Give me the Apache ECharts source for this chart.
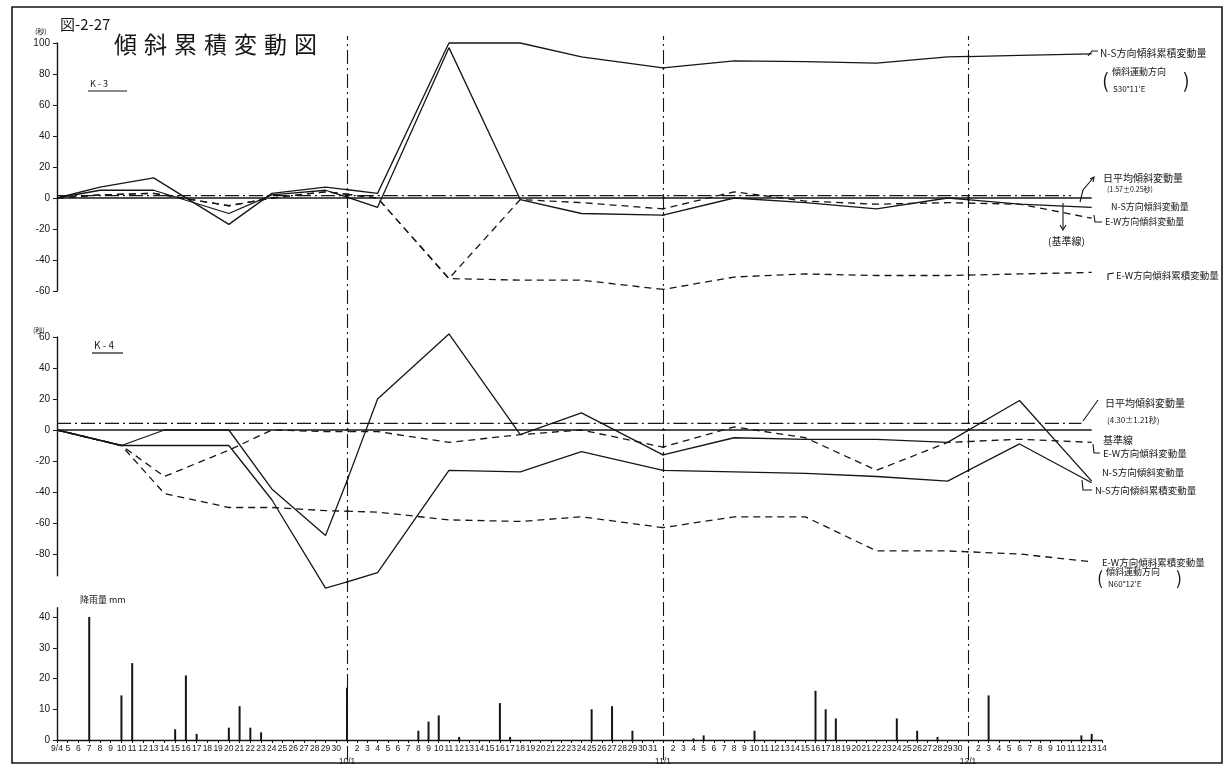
<!DOCTYPE html>
<html>
<head>
<meta charset="utf-8">
<script src="https://cdn.jsdelivr.net/npm/echarts@6/dist/echarts.min.js"></script>
<style>
  html, body { margin: 0; padding: 0; background: #fff; }
  #chart { width: 1225px; height: 774px; }
</style>
</head>
<body>
<div id="chart"></div>
<script>
// ---------------- data ----------------
// K-3 station, weekly readings (seconds of arc)
const K3_DATES  = ['9/4','9/8','9/13','9/20','9/24','9/29','10/4','10/11','10/18','10/24','11/1','11/8','11/15','11/22','11/29','12/6','12/13'];
const K3_NS_CUM = [0, 7, 13, -17, 3, 7, 3, 100, 100, 91, 84, 88.5, 88, 87, 91, 92, 93];
const K3_NS_DAY = [0, 5, 5, -10, 2, 5, -6, 97, -1, -10, -11, 0, -3, -7, 0, -4, -6];
const K3_EW_CUM = [0, 2, 3, -5, 0, 4, 0, -52, -53, -53, -59, -51, -49, -50, -50, -49, -48];
const K3_EW_DAY = [0, 2, 3, -5, 0, 4, 0, -52, -1, -3, -7, 4, -2, -4, -3, -4, -13];
const K3_MEAN   = 1.57;

// K-4 station
const K4_DATES  = ['9/4','9/10','9/14','9/20','9/24','9/29','10/4','10/11','10/18','10/24','11/1','11/8','11/15','11/22','11/29','12/6','12/13'];
const K4_NS_DAY = [0, -10, 0, 0, -38, -68, 20, 62, -3, 11, -16, -5, -6, -6, -8, 19, -33];
const K4_NS_CUM = [0, -10, -10, -10, -45, -102, -92, -26, -27, -14, -26, -27, -28, -30, -33, -9, -34];
const K4_EW_DAY = [0, -10, -30, -13, 0, -1, -1, -8, -3, 0, -11, 2, -5, -26, -8, -6, -8];
const K4_EW_CUM = [0, -10, -41, -50, -50, -52, -53, -58, -59, -56, -63, -56, -56, -78, -78, -80, -85];
const K4_MEAN   = 4.30;

// daily rainfall (mm)
const RAIN_DATES = ['9/7','9/10','9/11','9/15','9/16','9/17','9/20','9/21','9/22','9/23','10/1','10/8','10/9','10/10','10/12','10/16','10/17','10/25','10/27','10/29','11/4','11/5','11/10','11/16','11/17','11/18','11/24','11/26','11/28','12/3','12/12','12/13'];
const RAIN_MM    = [40, 14.5, 25, 3.5, 21, 2, 4, 11, 4, 2.5, 17, 3, 6, 8, 1, 12, 1, 10, 11, 3, 0.5, 1.5, 3, 16, 10, 7, 7, 3, 1, 14.5, 1.5, 2];

// ---------------- calendar ----------------
const YEAR = 2001;                       // any non-leap year; only Sep–Dec are used
const ORIGIN = Date.UTC(YEAR, 8, 4);     // 9/4
function dayIndex(md) {
  const [m, d] = md.split('/').map(Number);
  return (Date.UTC(YEAR, m - 1, d) - ORIGIN) / 864e5;
}
function dayLabel(i) {
  const t = new Date(ORIGIN + i * 864e5);
  const m = t.getUTCMonth() + 1, d = t.getUTCDate();
  if (i === 0) return m + '/' + d;
  return d === 1 ? '{mo|' + m + '/' + d + '}' : String(d);
}

// ---------------- layout ----------------
// each month is drawn in its own horizontal band of the sheet
const SEGMENTS = [
  { from: '9/4',  to: '10/1',  x0: 57,  x1: 347 },
  { from: '10/1', to: '11/1',  x0: 347, x1: 663 },
  { from: '11/1', to: '12/1',  x0: 663, x1: 968 },
  { from: '12/1', to: '12/14', x0: 968, x1: 1102 }
];
const PANELS = [
  { zeroY: 198, scale: 1.55,  span: [-80, 125], axis: { min: -60, max: 100, ticks: [-60,-40,-20,0,20,40,60,80,100] } },
  { zeroY: 430, scale: 1.55,  span: [-125, 80], axis: { min: -94, max: 60,  ticks: [-80,-60,-40,-20,0,20,40,60] } },
  { zeroY: 740, scale: 3.075, span: [0, 45],    axis: { min: 0,   max: 43,  ticks: [0,10,20,30,40] } }
];

const INK = '#161616';
const JP = '"Noto Sans CJK JP", "Noto Sans", sans-serif';
const NUM = '"Liberation Sans Narrow", "Liberation Sans", "DejaVu Sans", sans-serif';
const SOLID = { color: INK, width: 1.3, type: 'solid' };
const DASH  = { color: INK, width: 1.3, type: [7, 5] };
const CHAIN = { color: INK, width: 1.2, type: [14, 4, 2, 4] };

// series description per panel
function pts(dates, vals) { return dates.map((d, i) => [dayIndex(d), vals[i]]); }
const LINES = [
  [
    { data: [[0, 0], [dayIndex('12/13'), 0]], style: SOLID },
    { data: [[0, K3_MEAN], [dayIndex('12/11'), K3_MEAN]], style: CHAIN },
    { data: pts(K3_DATES, K3_NS_CUM), style: SOLID },
    { data: pts(K3_DATES, K3_NS_DAY), style: SOLID },
    { data: pts(K3_DATES, K3_EW_CUM), style: DASH },
    { data: pts(K3_DATES, K3_EW_DAY), style: DASH }
  ],
  [
    { data: [[0, 0], [dayIndex('12/13'), 0]], style: SOLID },
    { data: [[0, K4_MEAN], [dayIndex('12/12'), K4_MEAN]], style: CHAIN },
    { data: pts(K4_DATES, K4_NS_DAY), style: SOLID },
    { data: pts(K4_DATES, K4_NS_CUM), style: SOLID },
    { data: pts(K4_DATES, K4_EW_DAY), style: DASH },
    { data: pts(K4_DATES, K4_EW_CUM), style: DASH }
  ],
  []
];

const grid = [], xAxis = [], yAxis = [], series = [];

PANELS.forEach((p, pi) => {
  const top = p.zeroY - p.span[1] * p.scale;
  const height = (p.span[1] - p.span[0]) * p.scale;
  SEGMENTS.forEach((s, si) => {
    const g = grid.length;
    const lo = dayIndex(s.from), hi = dayIndex(s.to);
    const isLast = si === SEGMENTS.length - 1;
    grid.push({ left: s.x0, top: top, width: s.x1 - s.x0, height: height });
    const showX = pi === PANELS.length - 1;
    xAxis.push({
      gridIndex: g, type: 'value', min: lo, max: hi, interval: 1,
      show: showX,
      axisLine: { show: showX, lineStyle: { color: INK, width: 1.3 } },
      axisTick: { show: showX, length: 3, lineStyle: { color: INK } },
      splitLine: { show: false },
      axisLabel: {
        show: showX, color: INK, fontFamily: NUM, fontSize: 8.5, margin: 4,
        showMinLabel: true, showMaxLabel: isLast,
        formatter: v => dayLabel(v),
        rich: { mo: { fontFamily: NUM, fontSize: 8.5, color: INK, padding: [13, 0, 0, 0] } }
      }
    });
    yAxis.push({ gridIndex: g, type: 'value', min: p.span[0], max: p.span[1], show: false });

    LINES[pi].forEach(L => {
      series.push({
        type: 'line', xAxisIndex: g, yAxisIndex: g, data: L.data,
        symbol: 'none', lineStyle: L.style, clip: true, silent: true, animation: false
      });
    });
    if (pi === 2) {
      const bars = RAIN_DATES.map((d, i) => [dayIndex(d), RAIN_MM[i]])
        .filter(b => b[0] >= lo && (b[0] < hi || (isLast && b[0] === hi)));
      series.push({
        type: 'bar', xAxisIndex: g, yAxisIndex: g, data: bars, barWidth: 2,
        itemStyle: { color: INK }, silent: true, animation: false
      });
    }
  });

  // visible value axis for the panel
  const ga = grid.length;
  grid.push({ left: SEGMENTS[0].x0, top: p.zeroY - p.axis.max * p.scale, width: 10,
              height: (p.axis.max - p.axis.min) * p.scale });
  xAxis.push({ gridIndex: ga, type: 'value', min: 0, max: 1, show: false });
  yAxis.push({
    gridIndex: ga, type: 'value', min: p.axis.min, max: p.axis.max,
    axisLine: { show: true, lineStyle: { color: INK, width: 1.4 } },
    axisTick: { show: true, length: 4, customValues: p.axis.ticks, lineStyle: { color: INK } },
    splitLine: { show: false },
    axisLabel: { color: INK, fontFamily: NUM, fontSize: 10, margin: 7, customValues: p.axis.ticks,
                 formatter: v => String(v) }
  });
});

// month dividers running through all three panels
SEGMENTS.slice(1).forEach(s => {
  const g = grid.length;
  grid.push({ left: s.x0, top: 36, width: s.x1 - s.x0, height: 724 });
  xAxis.push({ gridIndex: g, type: 'value', min: dayIndex(s.from), max: dayIndex(s.to), show: false });
  yAxis.push({ gridIndex: g, type: 'value', min: 0, max: 1, show: false });
  series.push({
    type: 'line', xAxisIndex: g, yAxisIndex: g, data: [], silent: true, animation: false,
    markLine: { symbol: 'none', silent: true, animation: false, label: { show: false },
                lineStyle: Object.assign({}, CHAIN, { width: 1.1 }),
                data: [{ xAxis: dayIndex(s.from) }] }
  });
});

// ---------------- annotations ----------------
function txt(t, x, y, size, extra) {
  return { type: 'text', x: x, y: y, silent: true,
    style: Object.assign({ text: t, fill: INK, font: size + 'px ' + JP, textVerticalAlign: 'middle' }, extra || {}) };
}
function stroke(points, w) {
  return { type: 'polyline', silent: true, shape: { points: points },
           style: { stroke: INK, lineWidth: w || 1.1, fill: null } };
}
const TITLE = '傾斜累積変動図';
const NOTES = [
  txt('図-2-27', 60, 24, 15),
  txt('(秒)', 35, 31, 7),
  txt('K - 3', 90, 84, 9),
  txt('K - 4', 94, 345, 10),
  txt('(秒)', 33, 330, 7),
  txt('降雨量 mm', 80, 600, 9),

  txt('N-S方向傾斜累積変動量', 1100, 53, 10),
  txt('(', 1102, 80, 20),
  txt('傾斜運動方向', 1112, 72, 9),
  txt('S30°11′E', 1113, 89, 8),
  txt(')', 1183, 80, 20),
  txt('日平均傾斜変動量', 1103, 178, 10),
  txt('(1.57±0.25秒)', 1107, 189, 7),
  txt('N-S方向傾斜変動量', 1111, 207, 9),
  txt('E-W方向傾斜変動量', 1105, 222, 9),
  txt('(基準線)', 1048, 241, 10),
  txt('E-W方向傾斜累積変動量', 1116, 275, 9.5),

  txt('日平均傾斜変動量', 1105, 403, 10),
  txt('(4.30±1.21秒)', 1107, 420, 8),
  txt('基準線', 1103, 440, 10),
  txt('E-W方向傾斜変動量', 1103, 453, 9.5),
  txt('N-S方向傾斜変動量', 1102, 472, 9.5),
  txt('N-S方向傾斜累積変動量', 1095, 490, 9.5),
  txt('E-W方向傾斜累積変動量', 1102, 562, 9.5),
  txt('(', 1097, 578, 18),
  txt('傾斜運動方向', 1106, 572, 9),
  txt('N60°12′E', 1108, 584, 8),
  txt(')', 1176, 578, 18),

  stroke([[88, 91], [127, 91]], 1.2),
  stroke([[92, 353], [123, 353]], 1.2),
  stroke([[1088, 56], [1092, 51], [1098, 51]]),
  stroke([[1080, 202], [1083, 190], [1094, 177]]),
  stroke([[1090, 179], [1094, 177], [1093, 182]]),
  stroke([[1063, 203], [1063, 229]]),
  stroke([[1060, 225], [1063, 230], [1066, 225]]),
  stroke([[1094, 215], [1095, 222], [1102, 222]]),
  stroke([[1108, 280], [1108, 274], [1114, 273]]),
  stroke([[1083, 421], [1098, 400]]),
  stroke([[1093, 444], [1094, 453], [1100, 453]]),
  stroke([[1082, 480], [1083, 490], [1092, 490]]),
  { type: 'rect', silent: true, shape: { x: 12, y: 7, width: 1210, height: 756 },
    style: { stroke: INK, lineWidth: 1.6, fill: null } }
];
// big title, one widely spaced character at a time
Array.from(TITLE).forEach((ch, i) => NOTES.push(txt(ch, 114 + i * 30, 44, 23)));

const chart = echarts.init(document.getElementById('chart'), null, { renderer: 'canvas' });
chart.setOption({
  backgroundColor: '#ffffff',
  animation: false,
  grid: grid, xAxis: xAxis, yAxis: yAxis, series: series,
  graphic: NOTES
});
</script>
</body>
</html>
